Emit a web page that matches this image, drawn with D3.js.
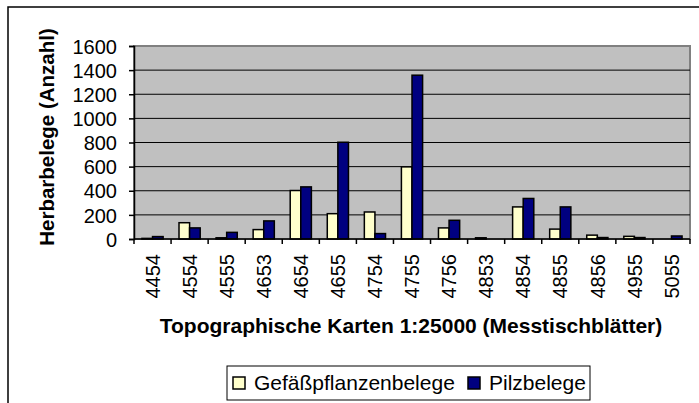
<!DOCTYPE html>
<html>
<head>
<meta charset="utf-8">
<script src="https://cdn.jsdelivr.net/npm/d3@7"></script>
<style>
  html, body { margin: 0; padding: 0; background: #fff; }
  svg { display: block; font-family: Arial, "Liberation Sans", sans-serif; }
</style>
</head>
<body>
<svg id="chart" width="699" height="403"></svg>
<script>
// Herbarbelege per Messtischblatt, two series side by side
const sheets = ['4454', '4554', '4555', '4653', '4654', '4655', '4754', '4755',
    '4756', '4853', '4854', '4855', '4856', '4955', '5055'];
const gefaessValues = [5, 135, 10, 78, 402, 210, 224, 598, 92, 10, 266, 82, 32, 22, 0];
const pilzValues = [20, 92, 55, 150, 432, 802, 45, 1358, 155, 0, 336, 266, 12, 12, 25];
const yTicks = [0, 200, 400, 600, 800, 1000, 1200, 1400, 1600];
const seriesNames = ['Gefäßpflanzenbelege', 'Pilzbelege'];
const seriesColors = ['#ffffcc', '#000080'];

const svg = d3.select('#chart');
const plot = { left: 134, right: 690, top: 46, bottom: 239 };

// chart area frame (only top and left edges fall inside the window)
svg.append('rect')
    .attr('x', 8).attr('y', 7).attr('width', 760).attr('height', 460)
    .attr('fill', '#fff').attr('stroke', '#000').attr('stroke-width', 1.5);

const x0 = d3.scaleBand().domain(sheets).range([plot.left, plot.right]);
// gap width 150%: each bar is bandwidth / 3.5
const x1 = d3.scaleBand().domain(seriesNames).range([0, x0.bandwidth()])
    .paddingInner(0).paddingOuter(0.75);
const y = d3.scaleLinear().domain([0, 1600]).range([plot.bottom, plot.top]);

svg.append('rect')
    .attr('x', plot.left).attr('y', plot.top)
    .attr('width', plot.right - plot.left).attr('height', plot.bottom - plot.top)
    .attr('fill', '#c0c0c0').attr('stroke', '#808080').attr('stroke-width', 2);

svg.append('g').selectAll('line')
    .data(yTicks.filter((t) => t > 0 && t < 1600))
    .join('line')
    .attr('x1', plot.left).attr('x2', plot.right)
    .attr('y1', (d) => y(d)).attr('y2', (d) => y(d))
    .attr('stroke', '#000').attr('stroke-width', 1);

const rows = sheets.map((s, i) => ({ sheet: s, values: [gefaessValues[i], pilzValues[i]] }));

svg.append('g').selectAll('g')
    .data(rows)
    .join('g')
    .attr('transform', (d) => `translate(${x0(d.sheet)},0)`)
    .selectAll('rect')
    .data((d) => d.values.map((v, k) => ({ v, k })))
    .join('rect')
    .attr('x', (d) => x1(seriesNames[d.k]))
    .attr('width', x1.bandwidth())
    .attr('y', (d) => y(d.v))
    .attr('height', (d) => y(0) - y(d.v))
    .attr('fill', (d) => seriesColors[d.k])
    .attr('stroke', '#000').attr('stroke-width', 1.5);

// y axis
const yAxis = svg.append('g')
    .attr('transform', `translate(${plot.left},0)`)
    .call(d3.axisLeft(y).tickValues(yTicks).tickFormat(d3.format('d')).tickSize(5).tickPadding(12));
yAxis.select('.domain').attr('stroke', '#000').attr('stroke-width', 1.5);
yAxis.selectAll('.tick line').attr('stroke', '#000').attr('stroke-width', 1.5);
yAxis.selectAll('.tick text')
    .attr('font-size', 20).attr('font-family', 'Arial, "Liberation Sans", sans-serif')
    .attr('fill', '#000').attr('dy', '0.36em');

// x axis: ticks sit between categories, labels rotated
const xAxisG = svg.append('g').attr('transform', `translate(0,${plot.bottom})`);
xAxisG.append('line')
    .attr('x1', plot.left).attr('x2', plot.right)
    .attr('stroke', '#000').attr('stroke-width', 1.5);
xAxisG.selectAll('line.tk')
    .data(sheets.concat(['end']))
    .join('line')
    .attr('class', 'tk')
    .attr('x1', (d) => (d === 'end' ? plot.right : x0(d)))
    .attr('x2', (d) => (d === 'end' ? plot.right : x0(d)))
    .attr('y1', 0).attr('y2', 5)
    .attr('stroke', '#000').attr('stroke-width', 1.5);
xAxisG.selectAll('text')
    .data(sheets)
    .join('text')
    .attr('transform', (d) => `translate(${x0(d) + x0.bandwidth() / 2},15) rotate(-90)`)
    .attr('text-anchor', 'end')
    .attr('dy', '0.36em')
    .attr('font-size', 20)
    .attr('fill', '#000')
    .text((d) => d);

// axis titles
svg.append('text')
    .attr('x', (plot.left + plot.right) / 2 - 1).attr('y', 333)
    .attr('text-anchor', 'middle')
    .attr('font-size', 21).attr('font-weight', 'bold')
    .text('Topographische Karten 1:25000 (Messtischblätter)');

svg.append('text')
    .attr('transform', `translate(54,137) rotate(-90)`)
    .attr('text-anchor', 'middle')
    .attr('font-size', 20.5).attr('font-weight', 'bold')
    .text('Herbarbelege (Anzahl)');

// legend
const legend = svg.append('g');
legend.append('rect')
    .attr('x', 227).attr('y', 366).attr('width', 363).attr('height', 34)
    .attr('fill', '#fff').attr('stroke', '#000').attr('stroke-width', 1);
const legendX = [233, 468];
seriesNames.forEach((name, k) => {
    legend.append('rect')
        .attr('x', legendX[k]).attr('y', 377).attr('width', 12).attr('height', 12)
        .attr('fill', seriesColors[k]).attr('stroke', '#000').attr('stroke-width', 1.5);
    legend.append('text')
        .attr('x', legendX[k] + 21).attr('y', 390)
        .attr('font-size', 21)
        .text(name);
});
</script>
</body>
</html>
